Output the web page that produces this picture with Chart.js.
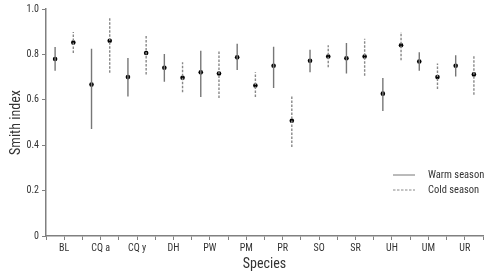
<!DOCTYPE html>
<html>
<head>
<meta charset="utf-8">
<script src="https://cdn.jsdelivr.net/npm/chart.js@4"></script>
<style>
  html, body { margin: 0; padding: 0; background: #fff; }
  #wrap { width: 500px; height: 278px; }
</style>
</head>
<body>
<div id="wrap"><canvas id="chart" width="500" height="278"></canvas></div>
<script>
const categories = ['BL', 'CQ a', 'CQ y', 'DH', 'PW', 'PM', 'PR', 'SO', 'SR', 'UH', 'UM', 'UR'];

const warmMean = [0.780, 0.667, 0.700, 0.741, 0.721, 0.787, 0.750, 0.772, 0.783, 0.627, 0.769, 0.750];
const warmLow  = [0.728, 0.471, 0.615, 0.680, 0.612, 0.731, 0.652, 0.721, 0.716, 0.551, 0.728, 0.703];
const warmHigh = [0.833, 0.825, 0.784, 0.802, 0.816, 0.847, 0.834, 0.821, 0.850, 0.696, 0.809, 0.796];

const coldMean = [0.852, 0.860, 0.806, 0.697, 0.716, 0.663, 0.508, 0.791, 0.791, 0.840, 0.700, 0.712];
const coldLow  = [0.806, 0.719, 0.711, 0.633, 0.608, 0.612, 0.392, 0.743, 0.706, 0.774, 0.648, 0.622];
const coldHigh = [0.899, 0.965, 0.884, 0.765, 0.813, 0.721, 0.617, 0.840, 0.869, 0.899, 0.760, 0.794];

const yTicks = [0, 0.2, 0.4, 0.6, 0.8, 1.0];

const FONT = '"Roboto Condensed", "Liberation Sans Narrow", sans-serif';
const TEXT = '#333';
const AXIS = '#808080';

// vertical segments, one per species, broken by null points
function whiskers(lo, hi, off) {
  const pts = [];
  categories.forEach((c, i) => {
    pts.push({ x: i + off, y: lo[i] }, { x: i + off, y: hi[i] }, { x: i + off, y: null });
  });
  return pts;
}
function means(vals, off) {
  return vals.map((v, i) => ({ x: i + off, y: v }));
}

// legend drawn inside the plot area, lower right
const seasonLegend = {
  id: 'seasonLegend',
  afterDraw(chart) {
    const { ctx, chartArea } = chart;
    const items = chart.data.datasets.filter(d => d.showLine);
    const x0 = chartArea.right - 90;
    let y = chartArea.top + 166;
    ctx.save();
    ctx.font = '10.5px ' + FONT;
    ctx.textBaseline = 'middle';
    items.forEach(d => {
      ctx.strokeStyle = d.borderColor;
      ctx.lineWidth = 1;
      ctx.setLineDash(d.borderDash || []);
      ctx.beginPath();
      ctx.moveTo(x0, y);
      ctx.lineTo(x0 + 22, y);
      ctx.stroke();
      ctx.setLineDash([]);
      ctx.fillStyle = TEXT;
      ctx.fillText(d.label, x0 + 35, y);
      y += 15;
    });
    ctx.restore();
  }
};

new Chart(document.getElementById('chart').getContext('2d'), {
  type: 'scatter',
  data: {
    datasets: [
      {
        label: 'Warm season',
        data: whiskers(warmLow, warmHigh, 0.25),
        showLine: true,
        spanGaps: false,
        borderColor: '#777',
        borderWidth: 1.4,
        pointRadius: 0,
      },
      {
        label: 'Cold season',
        data: whiskers(coldLow, coldHigh, 0.75),
        showLine: true,
        spanGaps: false,
        borderColor: '#888',
        borderWidth: 1.4,
        borderDash: [2.5, 1.5],
        pointRadius: 0,
      },
      {
        label: 'warm mean',
        data: means(warmMean, 0.25),
        pointRadius: 2.3,
        pointBackgroundColor: '#000',
        pointBorderWidth: 0,
      },
      {
        label: 'cold mean',
        data: means(coldMean, 0.75),
        pointRadius: 2.3,
        pointBackgroundColor: '#000',
        pointBorderWidth: 0,
      },
    ],
  },
  options: {
    responsive: false,
    animation: false,
    layout: { padding: { top: 9, right: 17, left: 0, bottom: 0 } },
    plugins: {
      legend: { display: false },
      tooltip: { enabled: false },
    },
    scales: {
      x: {
        type: 'linear',
        min: 0,
        max: categories.length,
        afterBuildTicks: (scale) => {
          const t = [];
          for (let v = 0; v <= categories.length; v += 0.5) t.push({ value: v });
          scale.ticks = t;
        },
        afterFit: (scale) => { scale.height = 42; },
        ticks: {
          autoSkip: false,
          maxRotation: 0,
          padding: 2,
          color: TEXT,
          font: { family: FONT, size: 10 },
          callback: (v) => (Math.round(v * 2) % 2 === 1 ? categories[Math.floor(v)] : ''),
        },
        grid: { drawOnChartArea: false, drawTicks: true, tickLength: 4, color: AXIS },
        border: { display: true, color: AXIS, width: 1.5 },
        title: {
          display: true,
          text: 'Species',
          color: TEXT,
          font: { family: FONT, size: 14 },
          padding: { top: 0, bottom: 5 },
        },
      },
      y: {
        min: 0,
        max: 1,
        afterBuildTicks: (scale) => { scale.ticks = yTicks.map(v => ({ value: v })); },
        afterFit: (scale) => { scale.width = 46; },
        ticks: {
          padding: 3,
          color: TEXT,
          font: { family: FONT, size: 10 },
          callback: (v) => (v === 0 ? '0' : v.toFixed(1)),
        },
        grid: { drawOnChartArea: false, drawTicks: true, tickLength: 4, color: AXIS },
        border: { display: true, color: AXIS, width: 1.5 },
        title: {
          display: true,
          text: 'Smith index',
          color: TEXT,
          font: { family: FONT, size: 14 },
          padding: { top: 8, bottom: 0 },
        },
      },
    },
  },
  plugins: [seasonLegend],
});
</script>
</body>
</html>
